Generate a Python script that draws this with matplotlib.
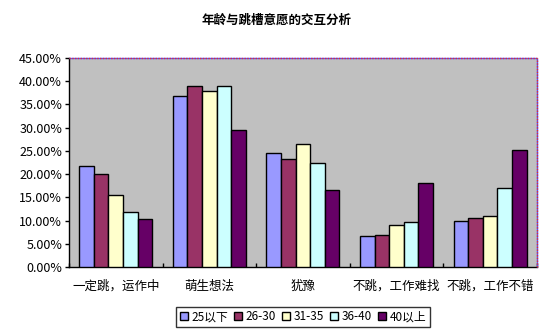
import matplotlib
matplotlib.use("Agg")
import matplotlib.pyplot as plt
import numpy as np
from matplotlib.ticker import FuncFormatter, MultipleLocator

plt.rcParams['font.family'] = ['Noto Sans CJK SC', 'DejaVu Sans']

title = "年龄与跳槽意愿的交互分析"
categories = ["一定跳，运作中", "萌生想法", "犹豫", "不跳，工作难找", "不跳，工作不错"]
series_names = ["25以下", "26-30", "31-35", "36-40", "40以上"]
age_25_below = [21.7, 36.8, 24.5, 6.7, 9.9]
age_26_30 = [20.0, 39.0, 23.3, 6.9, 10.5]
age_31_35 = [15.4, 37.9, 26.5, 9.0, 11.0]
age_36_40 = [11.9, 39.0, 22.3, 9.7, 17.0]
age_40_above = [10.4, 29.5, 16.6, 18.1, 25.2]
series_values = [age_25_below, age_26_30, age_31_35, age_36_40, age_40_above]
colors = ["#9999FF", "#993366", "#FFFFCC", "#CCFFFF", "#660066"]

fig = plt.figure(figsize=(5.54, 3.35), dpi=100)
ax = fig.add_axes([0.1245, 0.203, 0.8445, 0.624])
ax.set_facecolor("#C0C0C0")

x = np.arange(len(categories))
bar_w = 0.156
offsets = (np.arange(len(series_names)) - 2) * bar_w
for vals, name, col, off in zip(series_values, series_names, colors, offsets):
    ax.bar(x + off, np.array(vals) / 100.0, width=bar_w, color=col,
           edgecolor="black", linewidth=1.0, label=name, zorder=3)

ax.set_xlim(-0.5, len(categories) - 0.5)
ax.set_ylim(0, 0.45)
ax.yaxis.set_major_locator(MultipleLocator(0.05))
ax.yaxis.set_major_formatter(FuncFormatter(lambda v, p: f"{v * 100:.2f}%"))
ax.set_xticks(x)
ax.set_xticklabels(categories)
ax.set_xticks(np.arange(len(categories) + 1) - 0.5, minor=True)
ax.tick_params(axis="x", which="major", length=0, pad=9, labelsize=9)
ax.tick_params(axis="x", which="minor", direction="in", length=3, width=1)
ax.tick_params(axis="y", direction="out", length=3, width=1, labelsize=9, pad=2)

for side in ("left", "bottom"):
    ax.spines[side].set_color("black")
    ax.spines[side].set_linewidth(1.0)
for side in ("top", "right"):
    ax.spines[side].set_visible(False)

# dotted red/blue border along the top and right edges of the plot area
for xs, ys in (([0, 1], [1, 1]), ([1, 1], [0, 1])):
    ax.plot(xs, ys, transform=ax.transAxes, color="#5050FF", lw=1.0,
            clip_on=False, zorder=5, solid_capstyle="butt")
    ax.plot(xs, ys, transform=ax.transAxes, color="#E03030", lw=1.0,
            linestyle=(0, (1, 1)), clip_on=False, zorder=6)

fig.text(0.5, 0.94, title, ha="center", va="center", fontsize=9, fontweight="bold")

leg = fig.legend(loc="center", bbox_to_anchor=(0.547, 0.055), ncol=5, fontsize=8.5,
                 frameon=True, fancybox=False, edgecolor="black", handlelength=0.7,
                 handleheight=0.7, handletextpad=0.3, columnspacing=0.5,
                 borderpad=0.3, borderaxespad=0)
leg.get_frame().set_linewidth(1.0)

fig.savefig("out.png", dpi=100, facecolor="white")
